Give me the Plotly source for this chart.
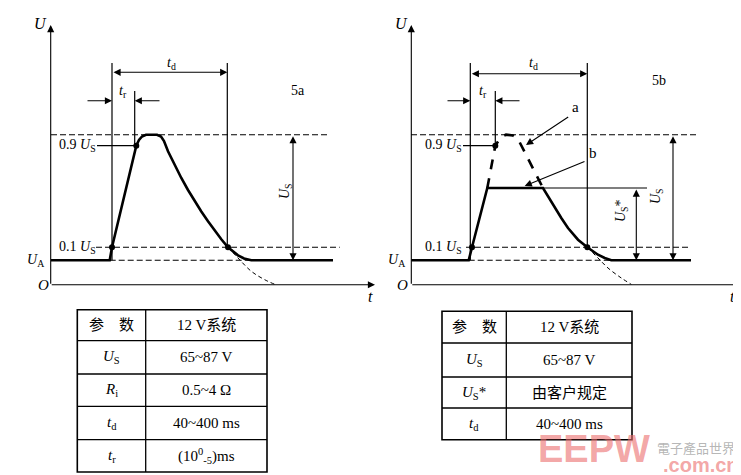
import plotly.graph_objects as go

# ---------------- data (diagram coordinates, page units) ----------------
# Panel 5a waveform (solid thick)
a_wave_x = [43, 101.7, 104, 128.3, 131, 134, 138, 149, 153, 156, 160, 166.7, 173.3, 180, 186.7,
            193.3, 200, 206.7, 213.3, 220, 225, 230, 236, 243.3, 325]
a_wave_y = [252.3, 252.3, 239.3, 137.7, 132, 128.5, 126.7, 126.7, 128.5, 133, 143.3, 157, 170, 182, 193.3,
            203.5, 213.3, 222.5, 231.3, 239.3, 243.8, 247.3, 250.5, 252.3, 252.3]
# Panel 5a dashed decay continuation
a_tail_x = [220, 230, 243.3, 256.7, 266.7]
a_tail_y = [239.3, 250, 263.3, 271.7, 276.3]
a_dots_x = [104, 128.3, 220]
a_dots_y = [239.3, 137.7, 239.3]

# Panel 5b waveform b (solid thick, clipped)
b_wave_x = [403.3, 460.7, 464, 479.3, 535, 540, 546.7, 553.3, 560, 570, 579.3, 590, 596.7, 603.3, 683]
b_wave_y = [252.3, 252.3, 239.3, 180, 180, 188.3, 200, 210, 220, 231.7, 239.3, 246.7, 250, 252.3, 252.3]
# Panel 5b unclipped pulse a (dashed thick)
b_pulse_x = [479.3, 487.3, 493, 498, 505, 510, 535]
b_pulse_y = [180, 137.7, 129, 126.7, 127.5, 131, 180]
b_tail_x = [579.3, 590, 600, 613.3, 623.3]
b_tail_y = [239.3, 250, 260, 270, 276.3]
b_dots_x = [464, 487.3, 579.3]
b_dots_y = [239.3, 137.7, 239.3]

# Level lines: (x0, x1, y)
levels_dashed = [(43, 320, 126.7), (88, 331.7, 239.3), (101.7, 325, 252.3),
                 (403, 688, 126.7), (458, 683, 239.3), (460.7, 683, 252.3)]
# Thin solid lines: (x0, y0, x1, y1)
thin_lines = [(104, 55, 104, 252.3), (219.3, 55, 219.3, 239.3), (126.7, 83, 126.7, 137.7),
              (89, 137.7, 128.3, 137.7),
              (462.3, 55, 462.3, 252.3), (579.3, 55, 579.3, 239.3), (487.3, 83, 487.3, 137.7),
              (455, 137.7, 487.3, 137.7), (535, 180, 639, 180)]

# Table contents
tab_a_left = ["参　数", "<i>U</i><sub>S</sub>", "<i>R</i><sub>i</sub>", "<i>t</i><sub>d</sub>", "<i>t</i><sub>r</sub>"]
tab_a_right = ["12 V系统", "65~87 V", "0.5~4 Ω", "40~400 ms", "(10<sup>0</sup><sub>-5</sub>)ms"]
tab_b_left = ["参　数", "<i>U</i><sub>S</sub>", "<i>U</i><sub>S</sub>*", "<i>t</i><sub>d</sub>"]
tab_b_right = ["12 V系统", "65~87 V", "由客户规定", "40~400 ms"]
tab_a_rows = [301.7, 332.7, 366, 398.3, 431.7, 464]
tab_b_rows = [303.3, 335, 369, 400, 431.7]

SERIF = "Liberation Serif, Noto Sans CJK SC"
fig = go.Figure()

# waveforms
fig.add_trace(go.Scatter(x=a_wave_x, y=a_wave_y, mode="lines",
                         line=dict(color="black", width=2.6)))
fig.add_trace(go.Scatter(x=a_tail_x, y=a_tail_y, mode="lines",
                         line=dict(color="black", width=1, dash="4px,3px", shape="spline")))
fig.add_trace(go.Scatter(x=b_wave_x, y=b_wave_y, mode="lines",
                         line=dict(color="black", width=2.6)))
fig.add_trace(go.Scatter(x=b_pulse_x, y=b_pulse_y, mode="lines",
                         line=dict(color="black", width=2.6, dash="10px,9px")))
fig.add_trace(go.Scatter(x=b_tail_x, y=b_tail_y, mode="lines",
                         line=dict(color="black", width=1, dash="4px,3px", shape="spline")))
for lx0, lx1, ly in levels_dashed:
    fig.add_trace(go.Scatter(x=[lx0, lx1], y=[ly, ly], mode="lines",
                             line=dict(color="black", width=1.1, dash="6px,3px")))
for x0, y0, x1, y1 in thin_lines:
    fig.add_trace(go.Scatter(x=[x0, x1], y=[y0, y1], mode="lines",
                             line=dict(color="black", width=1.2)))
fig.add_trace(go.Scatter(x=a_dots_x + b_dots_x, y=a_dots_y + b_dots_y, mode="markers",
                         marker=dict(color="black", size=6)))

# tables (shapes)
def table(xl, xm, xr, rows, left, right):
    fig.add_shape(type="rect", x0=xl, x1=xr, y0=rows[0], y1=rows[-1],
                  line=dict(color="black", width=1.6))
    fig.add_shape(type="line", x0=xm, x1=xm, y0=rows[0], y1=rows[-1],
                  line=dict(color="black", width=1.3))
    for r in rows[1:-1]:
        fig.add_shape(type="line", x0=xl, x1=xr, y0=r, y1=r, line=dict(color="black", width=1.3))
    for i in range(len(left)):
        yc = (rows[i] + rows[i + 1]) / 2
        fig.add_annotation(x=(xl + xm) / 2, y=yc, text=left[i], showarrow=False,
                           font=dict(family=SERIF, size=15, color="black"))
        fig.add_annotation(x=(xm + xr) / 2, y=yc, text=right[i], showarrow=False,
                           font=dict(family=SERIF, size=15, color="black"))

table(69.3, 137.7, 259, tab_a_rows, tab_a_left, tab_a_right)
table(434, 498.3, 624, tab_b_rows, tab_b_left, tab_b_right)

# arrows
def arrow(x, y, ax, ay, both=False, head=2, size=1.3):
    fig.add_annotation(x=x, y=y, ax=ax, ay=ay, xref="x", yref="y", axref="x", ayref="y",
                       text="", showarrow=True, arrowhead=head, arrowsize=size, arrowwidth=1.1,
                       arrowcolor="black", arrowside="end+start" if both else "end",
                       startarrowhead=head, startarrowsize=size, standoff=0, startstandoff=0,
                       font=dict(size=10))

# axes
arrow(42.7, 17, 42.7, 277.3)
arrow(367, 276.7, 42.2, 276.7)
arrow(403.3, 17, 403.3, 277.3)
arrow(735, 276.7, 402.8, 276.7)
# t_d
arrow(219.3, 64.3, 104, 64.3, both=True)
arrow(579.3, 65.7, 462.3, 65.7, both=True)
# t_r
arrow(104, 92.7, 78, 92.7)
arrow(126.7, 92.7, 153, 92.7)
arrow(462.3, 92.7, 438, 92.7)
arrow(487.3, 92.7, 513, 92.7)
# U_S, U_S*
arrow(285, 252.3, 285, 126.7, both=True)
arrow(665, 252.3, 665, 126.7, both=True)
arrow(628.3, 252.3, 628.3, 180, both=True)
# a, b pointers
arrow(518, 137, 561.7, 108)
arrow(516.7, 178, 578, 153)

def label(x, y, t, size=14, xa="center", angle=0):
    fig.add_annotation(x=x, y=y, text=t, showarrow=False, xanchor=xa, textangle=angle,
                       font=dict(family=SERIF, size=size, color="black"))

label(32, 15, "<i>U</i>", 16)
label(35, 277, "<i>O</i>", 15)
label(362, 288, "<i>t</i>", 16)
label(27, 252, "<i>U</i><sub>A</sub>", 14)
label(90, 137.7, "0.9 <i>U</i><sub>S</sub>", 14, "right")
label(90, 239.3, "0.1 <i>U</i><sub>S</sub>", 14, "right")
label(163, 55, "<i>t</i><sub>d</sub>", 14)
label(115, 83, "<i>t</i><sub>r</sub>", 14)
label(277, 183, "<i>U</i><sub>S</sub>", 14, angle=-90)
label(290, 82, "5a", 14)

label(393, 15, "<i>U</i>", 16)
label(394, 277, "<i>O</i>", 15)
label(724, 288, "<i>t</i>", 16)
label(388, 252, "<i>U</i><sub>A</sub>", 14)
label(456, 137.7, "0.9 <i>U</i><sub>S</sub>", 14, "right")
label(456, 239.3, "0.1 <i>U</i><sub>S</sub>", 14, "right")
label(525, 55, "<i>t</i><sub>d</sub>", 14)
label(475, 83, "<i>t</i><sub>r</sub>", 14)
label(648, 188, "<i>U</i><sub>S</sub>", 14, angle=-90)
label(613, 203, "<i>U</i><sub>S</sub>*", 14, angle=-90)
label(651, 72, "5b", 14)
label(567, 99, "a", 15)
label(585, 145, "b", 15)

# watermark
fig.add_annotation(x=586, y=441, text="<b>EEPW</b>", showarrow=False,
                   font=dict(family="Liberation Sans", size=38, color="rgba(235,110,110,0.62)"))
fig.add_annotation(x=688, y=439, text="電子產品世界", showarrow=False,
                   font=dict(family="Noto Sans CJK SC, Noto Sans CJK TC", size=13,
                             color="rgba(140,140,140,0.65)"))
fig.add_annotation(x=693, y=457, text="<b>.com.cn</b>", showarrow=False,
                   font=dict(family="Liberation Sans", size=20, color="rgba(235,110,110,0.62)"))

fig.update_layout(width=741, height=475, margin=dict(l=0, r=0, t=0, b=0),
                  paper_bgcolor="white", plot_bgcolor="white", showlegend=False,
                  xaxis=dict(range=[0, 741], visible=False, fixedrange=True),
                  yaxis=dict(range=[475, 0], visible=False, fixedrange=True))
fig.write_html("out.html")
